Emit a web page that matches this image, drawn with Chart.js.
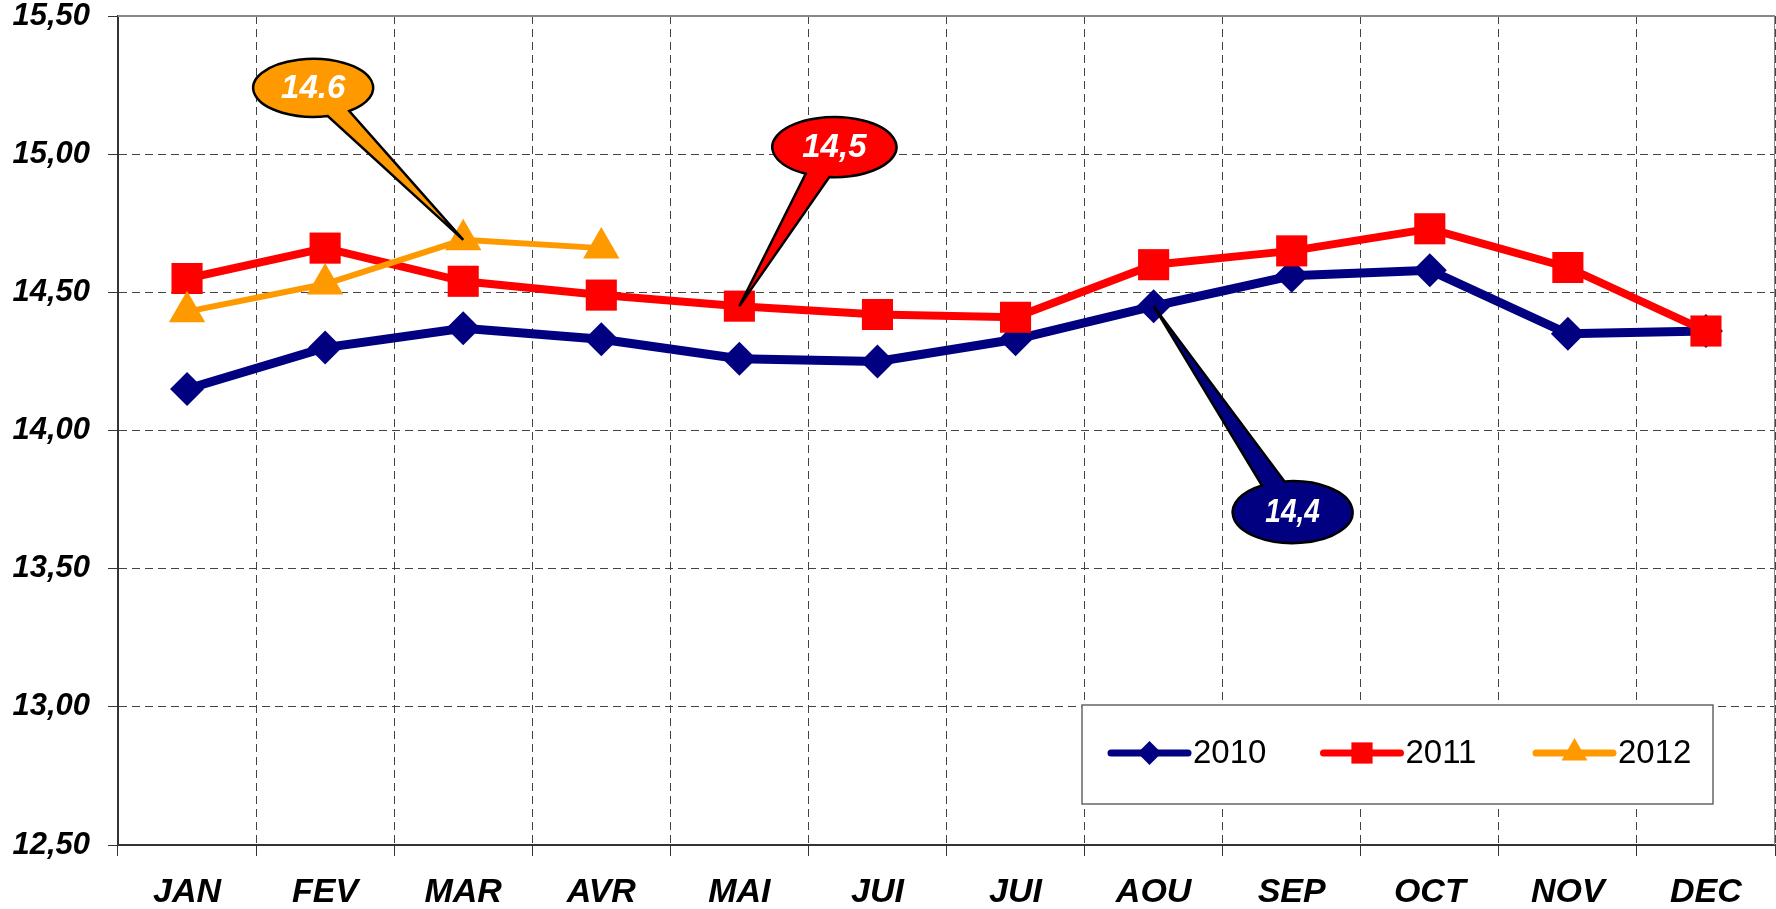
<!DOCTYPE html>
<html>
<head>
<meta charset="utf-8">
<script src="https://cdn.jsdelivr.net/npm/chart.js@4.4.0/dist/chart.umd.min.js"></script>
<style>
html, body { margin: 0; padding: 0; background: #fff; }
#wrap { width: 1776px; height: 909px; }
</style>
</head>
<body>
<div id="wrap"><canvas id="chart1" width="1776" height="909"></canvas></div>
<script>
var MONTHS = ['JAN', 'FEV', 'MAR', 'AVR', 'MAI', 'JUI', 'JUI', 'AOU', 'SEP', 'OCT', 'NOV', 'DEC'];
var Y2010 = [14.15, 14.30, 14.37, 14.33, 14.26, 14.25, 14.33, 14.45, 14.56, 14.58, 14.35, 14.36];
var Y2011 = [14.55, 14.66, 14.54, 14.49, 14.45, 14.42, 14.41, 14.60, 14.65, 14.73, 14.59, 14.36];
var Y2012 = [14.43, 14.53, 14.69, 14.66, null, null, null, null, null, null, null, null];
var SERIES = ['2010', '2011', '2012'];

var FONT = '"Liberation Sans", Arial, sans-serif';

// callout bubbles: which point they hang from, and where the bubble sits
var CALLOUTS = [
	{ds: 2, idx: 2, text: '14.6', dx: -150, dy: -152, rx: 60, ry: 29, squeeze: 1},
	{ds: 1, idx: 4, text: '14,5', dx: 95, dy: -159, rx: 62, ry: 30, squeeze: 1},
	{ds: 0, idx: 7, text: '14,4', dx: 139, dy: 206, rx: 60, ry: 31, squeeze: 0.85}
];

// top + right border of the plot
var frame = {
	id: 'frame',
	beforeDatasetsDraw: function (chart) {
		var ctx = chart.ctx, a = chart.chartArea;
		ctx.save();
		ctx.strokeStyle = '#888';
		ctx.lineWidth = 2;
		ctx.beginPath();
		ctx.moveTo(a.left, a.top);
		ctx.lineTo(a.right, a.top);
		ctx.stroke();
		ctx.lineWidth = 1;
		ctx.beginPath();
		ctx.moveTo(a.right - 0.5, a.top);
		ctx.lineTo(a.right - 0.5, a.bottom);
		ctx.stroke();
		ctx.restore();
	}
};

// legend drawn as a boxed row inside the plot, bottom right
var boxLegend = {
	id: 'boxLegend',
	afterDatasetsDraw: function (chart) {
		var ctx = chart.ctx, a = chart.chartArea;
		var x = a.right - 693, y = a.bottom - 140, w = 631, h = 99;
		ctx.save();
		ctx.fillStyle = '#fff';
		ctx.fillRect(x, y, w, h);
		ctx.strokeStyle = '#666';
		ctx.lineWidth = 1.5;
		ctx.strokeRect(x, y, w, h);
		var sizes = [12, 15, 15];
		chart.data.datasets.forEach(function (ds, i) {
			var lx = x + 29 + i * 212.5, cy = y + 48;
			ctx.strokeStyle = ds.borderColor;
			ctx.lineWidth = 7;
			ctx.lineCap = 'round';
			ctx.beginPath();
			ctx.moveTo(lx, cy);
			ctx.lineTo(lx + 77, cy);
			ctx.stroke();
			ctx.fillStyle = ds.backgroundColor;
			Chart.helpers.drawPoint(ctx, {pointStyle: ds.pointStyle, radius: sizes[i], rotation: 0, borderWidth: 0}, lx + 38.5, cy);
			ctx.fillStyle = '#000';
			ctx.font = '33px ' + FONT;
			ctx.textAlign = 'left';
			ctx.textBaseline = 'middle';
			ctx.fillText(ds.label, lx + 82, cy + 1);
		});
		ctx.restore();
	}
};

var callouts = {
	id: 'callouts',
	afterDatasetsDraw: function (chart) {
		var ctx = chart.ctx;
		CALLOUTS.forEach(function (c) {
			var ds = chart.data.datasets[c.ds];
			var p = chart.getDatasetMeta(c.ds).data[c.idx];
			var tx = p.x, ty = p.y;
			var cx = tx + c.dx, cy = ty + c.dy;
			var t = Math.atan2((ty - cy) / c.ry, (tx - cx) / c.rx);
			var d = 0.2;
			ctx.save();
			ctx.beginPath();
			ctx.moveTo(tx, ty);
			ctx.lineTo(cx + c.rx * Math.cos(t + d), cy + c.ry * Math.sin(t + d));
			ctx.ellipse(cx, cy, c.rx, c.ry, 0, t + d, t - d + 2 * Math.PI, false);
			ctx.closePath();
			ctx.fillStyle = ds.borderColor;
			ctx.fill();
			ctx.strokeStyle = '#000';
			ctx.lineWidth = 2.5;
			ctx.stroke();
			ctx.translate(cx, cy + 1);
			ctx.scale(c.squeeze, 1);
			ctx.fillStyle = '#fff';
			ctx.font = 'italic bold 33px ' + FONT;
			ctx.textAlign = 'center';
			ctx.textBaseline = 'middle';
			ctx.fillText(c.text, 0, 0);
			ctx.restore();
		});
	}
};

var ctx = document.getElementById('chart1').getContext('2d');
new Chart(ctx, {
	type: 'line',
	data: {
		labels: MONTHS,
		datasets: [{
			label: SERIES[0],
			data: Y2010,
			borderColor: '#000080',
			backgroundColor: '#000080',
			borderWidth: 9,
			pointStyle: 'rectRot',
			pointRadius: 17,
			pointBorderWidth: 0,
			order: 3
		}, {
			label: SERIES[1],
			data: Y2011,
			borderColor: '#ff0000',
			backgroundColor: '#ff0000',
			borderWidth: 8,
			pointStyle: 'rect',
			pointRadius: 22,
			pointBorderWidth: 0,
			order: 2
		}, {
			label: SERIES[2],
			data: Y2012,
			borderColor: '#ff9900',
			backgroundColor: '#ff9900',
			borderWidth: 6,
			pointStyle: 'triangle',
			pointRadius: 21,
			pointBorderWidth: 0,
			order: 1
		}]
	},
	options: {
		responsive: false,
		animation: false,
		events: [],
		devicePixelRatio: 1,
		layout: {autoPadding: false, padding: {top: 16, right: 1, left: 0, bottom: 0}},
		elements: {line: {tension: 0, fill: false}},
		plugins: {
			legend: {display: false},
			tooltip: {enabled: false}
		},
		scales: {
			x: {
				offset: true,
				ticks: {
					padding: 16,
					color: '#000',
					maxRotation: 0,
					autoSkip: false,
					font: {family: FONT, size: 34, style: 'italic', weight: 'bold'}
				},
				grid: {offset: true, color: '#444', lineWidth: 1, tickLength: 11, tickColor: '#333'},
				border: {color: '#333', width: 2, dash: [8, 5]},
				afterFit: function (s) { s.height = 64; s.paddingLeft = 0; s.paddingRight = 0; }
			},
			y: {
				min: 12.5,
				max: 15.5,
				ticks: {
					stepSize: 0.5,
					padding: 18,
					color: '#000',
					font: {family: FONT, size: 31, style: 'italic', weight: 'bold', lineHeight: 1},
					callback: function (v) { return v.toFixed(2).replace('.', ','); }
				},
				grid: {color: '#444', lineWidth: 1, tickLength: 10, tickColor: '#333'},
				border: {color: '#333', width: 2, dash: [8, 5]},
				afterFit: function (s) { s.width = 118; s.paddingTop = 0; s.paddingBottom = 0; }
			}
		}
	},
	plugins: [frame, boxLegend, callouts]
});
</script>
</body>
</html>
